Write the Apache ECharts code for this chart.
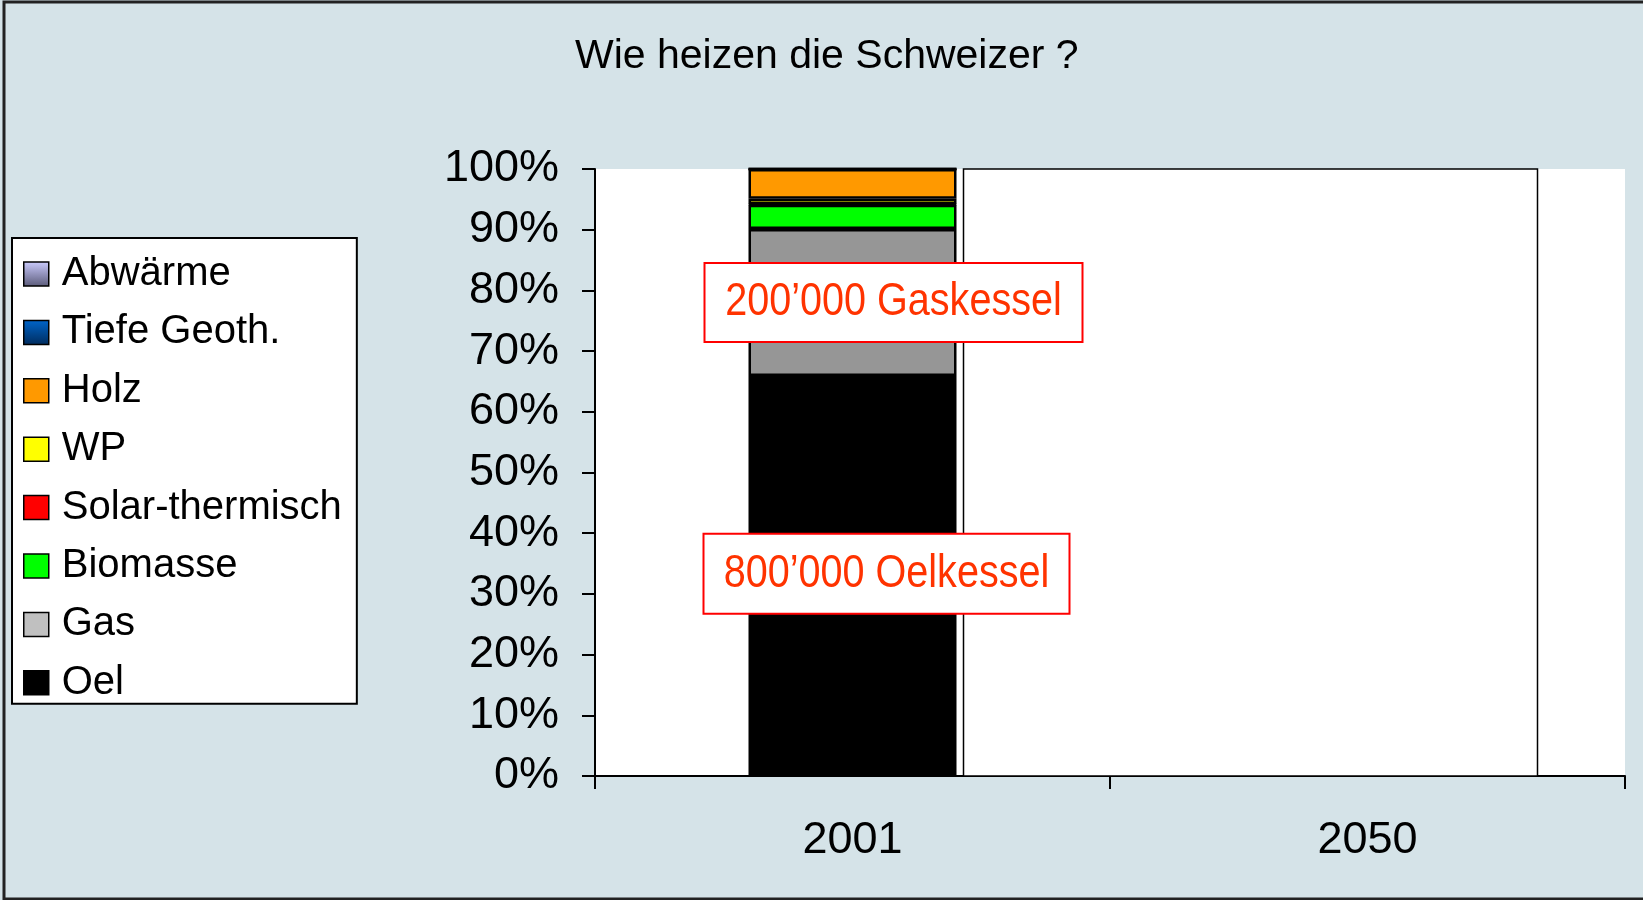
<!DOCTYPE html>
<html style="height: 100%">
<head>
    <meta charset="utf-8">
    <script src="https://cdn.jsdelivr.net/npm/echarts@6/dist/echarts.min.js"></script>
</head>
<body style="height: 100%; margin: 0; background: #d5e3e8">
<div id="container" style="width: 1643px; height: 900px"></div>
<script type="text/javascript">
    // Daten
    var years = ['2001', '2050'];
    var oel = [65.9, null];
    var gas = [24.2, null];
    var biomasse = [4.0, null];
    var solar = [0.1, null];
    var wp = [0.9, null];
    var holz = [4.9, null];
    var geoth = [0, null];
    var abwaerme = [0, null];
    var legendOrder = ['Abwärme', 'Tiefe Geoth.', 'Holz', 'WP', 'Solar-thermisch', 'Biomasse', 'Gas', 'Oel'];

    var dom = document.getElementById('container');
    var myChart = echarts.init(dom);

    function bar(name, data, color) {
        return {
            name: name,
            type: 'bar',
            stack: 'total',
            barWidth: 208,
            data: data,
            itemStyle: {color: color, borderColor: '#000', borderWidth: 2.5},
            emphasis: {disabled: true}
        };
    }

    var option = {
        backgroundColor: '#d5e3e8',
        animation: false,
        textStyle: {fontFamily: 'Liberation Sans, Arial, sans-serif'},
        title: {
            text: 'Wie heizen die Schweizer ?',
            left: 570,
            top: 31,
            textStyle: {fontSize: 41, fontWeight: 'normal', color: '#000'}
        },
        legend: {
            orient: 'vertical',
            left: 12,
            top: 238,
            data: legendOrder.map(function (n) {
                return n === 'Gas' ? {name: n, itemStyle: {color: '#c0c0c0'}} : n;
            }),
            backgroundColor: '#fff',
            borderColor: '#000',
            borderWidth: 2,
            padding: [16, 15, 1, 11],
            itemWidth: 25,
            itemHeight: 24,
            itemGap: 18.4,
            icon: 'rect',
            selectedMode: false,
            itemStyle: {borderColor: '#000', borderWidth: 1.5},
            textStyle: {fontSize: 40, lineHeight: 40, color: '#000', padding: [0, 0, 0, 8]}
        },
        grid: {
            left: 595,
            top: 169,
            right: 18,
            bottom: 124,
            show: true,
            backgroundColor: '#fff',
            borderWidth: 0
        },
        xAxis: {
            type: 'category',
            data: years,
            axisLine: {lineStyle: {color: '#000', width: 2}},
            axisTick: {show: true, length: 13, lineStyle: {color: '#000', width: 2}},
            axisLabel: {fontSize: 45, color: '#000', margin: 42}
        },
        yAxis: {
            type: 'value',
            min: 0,
            max: 100,
            interval: 10,
            axisLine: {show: true, lineStyle: {color: '#000', width: 2}},
            axisTick: {show: true, length: 13, lineStyle: {color: '#000', width: 2}},
            splitLine: {show: false},
            axisLabel: {fontSize: 45, color: '#000', margin: 36, formatter: '{value}%'}
        },
        series: [
            bar('Oel', oel, '#000000'),
            bar('Gas', gas, '#969696'),
            bar('Biomasse', biomasse, '#00ff00'),
            bar('Solar-thermisch', solar, '#ff0000'),
            bar('WP', wp, '#ffff00'),
            bar('Holz', holz, '#ff9900'),
            bar('Tiefe Geoth.', geoth, new echarts.graphic.LinearGradient(0, 0, 0, 1, [
                {offset: 0, color: '#0066cc'}, {offset: 1, color: '#002b5c'}])),
            bar('Abwärme', abwaerme, new echarts.graphic.LinearGradient(0, 0, 0, 1, [
                {offset: 0, color: '#ccccff'}, {offset: 1, color: '#5a5a78'}]))
        ]
    };

    myChart.setOption(option, true);

    // Abdeckung 2050 und Beschriftungen
    var c2001 = myChart.convertToPixel({xAxisIndex: 0}, '2001');
    var c2050 = myChart.convertToPixel({xAxisIndex: 0}, '2050');
    var yTop = myChart.convertToPixel({yAxisIndex: 0}, 100);
    var yBot = myChart.convertToPixel({yAxisIndex: 0}, 0);

    function callout(text, cx, cy, w, h) {
        return {
            type: 'group',
            x: cx - w / 2,
            y: cy - h / 2,
            z: 200,
            children: [
                {type: 'rect', z: 200, shape: {x: 0, y: 0, width: w, height: h},
                    style: {fill: '#fff', stroke: '#ff0000', lineWidth: 2}},
                // schmale Schrift nachgebildet
                {type: 'text', z: 201, x: w / 2, y: h / 2, scaleX: 0.86,
                    style: {text: text, fill: '#ff3300', fontSize: 46,
                        fontFamily: 'Liberation Sans, Arial, sans-serif',
                        align: 'center', verticalAlign: 'middle'}}
            ]
        };
    }

    myChart.setOption({
        graphic: [
            {type: 'rect', z: 300,
                shape: {x: 4, y: 2, width: 1650, height: 897},
                style: {fill: 'none', stroke: '#222', lineWidth: 3}},
            {type: 'rect', z: 90,
                shape: {x: c2001 + 104 + 7, y: yTop, width: c2050 + 170 - (c2001 + 111), height: yBot - yTop},
                style: {fill: '#fff', stroke: '#000', lineWidth: 1.5}},
            callout('200\u2019000 Gaskessel', c2001 + 41, myChart.convertToPixel({yAxisIndex: 0}, 78), 378, 79),
            callout('800\u2019000 Oelkessel', c2001 + 34, myChart.convertToPixel({yAxisIndex: 0}, 33.3), 366, 80)
        ]
    });
</script>
</body>
</html>
